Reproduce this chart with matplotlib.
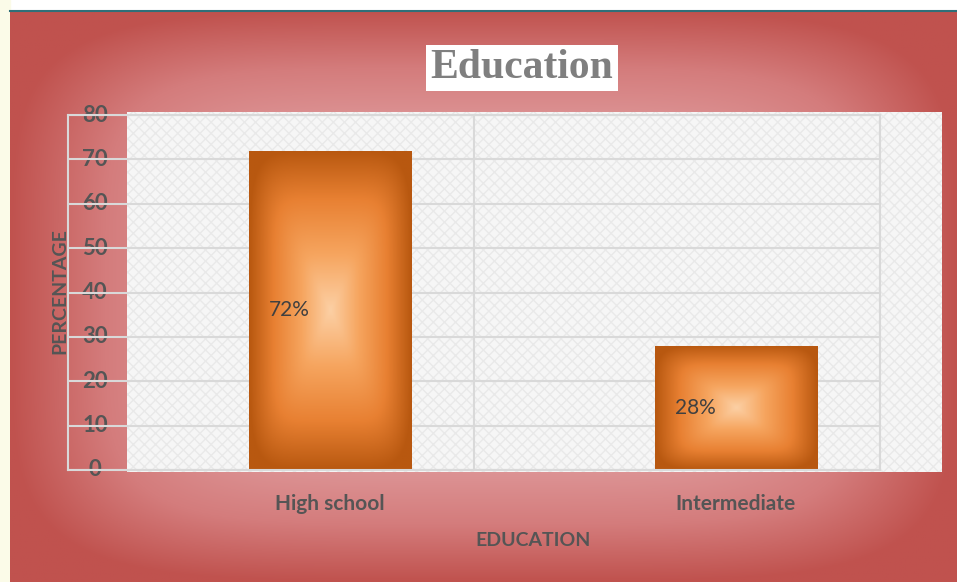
import matplotlib
matplotlib.use("Agg")
import matplotlib.pyplot as plt
import matplotlib.transforms as mtransforms
from matplotlib.patches import Rectangle
import numpy as np

categories = ["High school", "Intermediate"]
values = [72, 28]
bar_labels = ["72%", "28%"]
yticks = [0, 10, 20, 30, 40, 50, 60, 70, 80]

W, H = 957, 582
fig = plt.figure(figsize=(W / 100, H / 100), dpi=100)
fig.patch.set_facecolor("white")


def rect_gradient(h, w, stops, p=4, sx=1.0, sy=1.0):
    # stops: list of (position, rgb) from centre (0) to edge (1)
    u = np.linspace(-1, 1, w)[None, :] * sx
    v = np.linspace(-1, 1, h)[:, None] * sy
    f = np.clip((np.abs(u) ** p + np.abs(v) ** p) ** (1 / p), 0, 1)
    pos = [s[0] for s in stops]
    out = np.zeros((h, w, 3))
    for k in range(3):
        out[..., k] = np.interp(f, pos, [s[1][k] / 255 for s in stops])
    return out


# background panel (pixel coordinates)
bg = fig.add_axes([0, 0, 1, 1], zorder=0)
bg.set_xlim(0, W)
bg.set_ylim(H, 0)
bg.axis("off")
bg.add_patch(Rectangle((0, 0), 10, H, color="#fbfbe8", zorder=0))
grad = rect_gradient(300, 500, [(0, (238, 190, 192)), (0.45, (228, 168, 170)),
                                (0.8, (212, 124, 124)), (1, (192, 82, 78))], p=5)
bg.imshow(grad, extent=[10, W, H, 10], aspect="auto", zorder=1)
bg.plot([10, W], [11, 11], color="#2f6f78", lw=1.5, zorder=2)
bg.add_patch(Rectangle((127, 112), 815, 360, facecolor="#f6f6f6",
                       edgecolor="#e9e9e9", hatch="xxx", lw=0, zorder=2))
bg.set_xlim(0, W)
bg.set_ylim(H, 0)

# main axes
ax = fig.add_axes([68 / W, (H - 470) / H, 812 / W, 355 / H], zorder=1)
ax.patch.set_alpha(0)
x = np.arange(len(categories))
bars = ax.bar(x, values, width=0.4, color="none", zorder=2)

xlim = (-0.645, 1.355)
ylim = (0, 80)
bar_stops = [(0, (252, 208, 165)), (0.35, (246, 165, 95)), (0.7, (232, 128, 50)),
             (1, (184, 88, 16))]
for b in bars:
    bb = b.get_bbox()
    img = rect_gradient(200, 120, bar_stops, p=6)
    im = ax.imshow(img, extent=[bb.x0, bb.x1, bb.y0, bb.y1], aspect="auto", zorder=2)
    im.set_clip_path(b)

ax.set_xlim(*xlim)
ax.set_ylim(*ylim)
ax.axvline(np.mean(xlim), color="#d9d9d9", lw=1.5, zorder=1)

ax.set_yticks(yticks)
ax.yaxis.grid(True, color="#d9d9d9", lw=1.5)
ax.set_axisbelow(True)
ax.tick_params(axis="y", length=0, labelleft=False)
for s in ax.spines.values():
    s.set_color("#d9d9d9")
    s.set_linewidth(1.5)

ax.set_xticks(x)
ax.set_xticklabels(categories, fontfamily="Lato", fontweight="bold",
                   fontsize=15, color="#555555")
ax.tick_params(axis="x", length=0, pad=17)

# y tick labels
tr = mtransforms.blended_transform_factory(fig.transFigure, ax.transData)
for t in yticks:
    ax.text(95 / W, t, str(t), transform=tr, ha="center", va="center",
            fontfamily="Lato", fontweight="bold", fontsize=16, color="#555555",
            zorder=0)

for xi, v, lab in zip(x, values, bar_labels):
    ax.text(xi - 0.1, v / 2, lab, ha="center", va="center", fontfamily="Lato",
            fontsize=15, color="#404040", zorder=3)

fig.text(522 / W, 1 - 68 / H, "Education", ha="center", va="center",
         fontfamily="Liberation Serif", fontweight="bold", fontsize=30,
         color="#7f7f7f", bbox=dict(facecolor="white", edgecolor="none", pad=3))
fig.text(60 / W, 1 - 291 / H, "PERCENTAGE", rotation=90, ha="center", va="center",
         fontfamily="Lato", fontweight="bold", fontsize=14, color="#555555")
fig.text(533 / W, 1 - 541 / H, "EDUCATION", ha="center", va="center",
         fontfamily="Lato", fontweight="bold", fontsize=14, color="#555555")

fig.savefig("out.png", dpi=100)
